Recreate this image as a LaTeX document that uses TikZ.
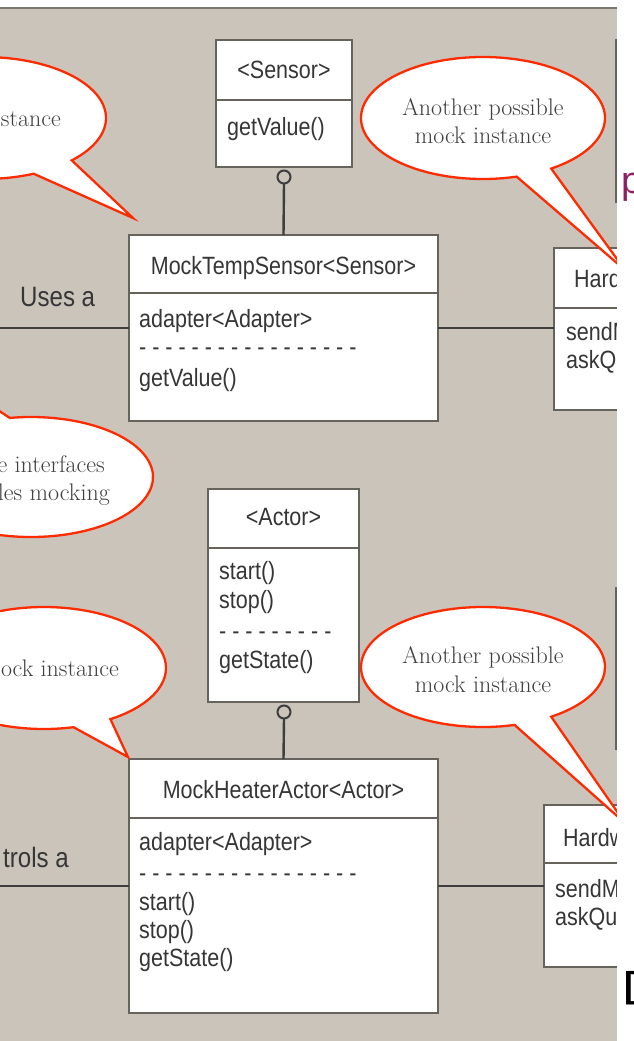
\documentclass[tikz,border=0pt]{standalone}
\usepackage{fontspec}
\newfontfamily\boxfnt[FakeStretch=0.86]{Liberation Sans}
\newfontfamily\sansfnt{Liberation Sans}
\definecolor{bgbeige}{HTML}{CAC4BA}
\definecolor{boxline}{HTML}{66625C}
\definecolor{topline}{HTML}{7A7670}
\definecolor{connc}{HTML}{3E3E3E}
\definecolor{calred}{HTML}{FF2B00}
\definecolor{txtc}{HTML}{363636}
\definecolor{ctxtc}{HTML}{404040}
\definecolor{slidepurple}{HTML}{8E1F63}
\begin{document}
\begin{tikzpicture}[x=1pt,y=1pt,
  umlbox/.style={draw=boxline, line width=2.3pt, fill=white, rectangle, inner sep=0pt, outer sep=0pt, anchor=north west},
  divider/.style={draw=boxline, line width=2.3pt},
  btxt/.style={font=\boxfnt\fontsize{25}{29}\selectfont, text=txtc, inner sep=0pt},
  ltxt/.style={font=\boxfnt\fontsize{28}{32}\selectfont, text=txtc, inner sep=0pt},
  ctxt/.style={font=\rmfamily\fontsize{24}{28}\selectfont, text=ctxtc, inner sep=0pt},
  conn/.style={draw=connc, line width=2.4pt},
  lolli/.style={circle, draw=connc, line width=2pt, minimum size=13pt, inner sep=0pt, outer sep=0pt},
  callout/.style={fill=white, draw=calred, line width=2.3pt, line join=miter},
  edgeline/.style={draw=boxline, line width=2pt}]
\useasboundingbox (0,0) rectangle (634,-1041);
\clip (0,0) rectangle (634,-1041);
% background
\fill[white] (0,0) rectangle (634,-1041);
\fill[bgbeige] (0,-8) rectangle (617,-1041);
\draw[draw=topline, line width=2pt] (0,-8) -- (617,-8);

% ---------- boxes ----------
\node[umlbox, minimum width=136pt, minimum height=127pt] (sensor) at (216,-40) {};
\draw[divider] ([yshift=-60pt]sensor.north west) -- ([yshift=-60pt]sensor.north east);
\node[btxt, anchor=base] (sensorT) at (284,-78) {<Sensor>};
\node[btxt, anchor=base west] (sensorM) at (227,-135) {getValue()};

\node[umlbox, minimum width=309pt, minimum height=186pt] (mts) at (129,-235) {};
\draw[divider] ([yshift=-58pt]mts.north west) -- ([yshift=-58pt]mts.north east);
\node[btxt, anchor=base] (mtsT) at (283.5,-274) {MockTempSensor<Sensor>};
\node[btxt, anchor=base west] (mtsA) at (139,-327) {adapter<Adapter>};
\node[btxt, anchor=base west] (mtsD) at (139,-355) {- - - - - - - - - - - - - - - - -};
\node[btxt, anchor=base west] (mtsM) at (139,-386) {getValue()};

\node[umlbox, minimum width=250pt, minimum height=162pt] (hw1) at (554,-248) {};
\draw[divider] ([yshift=-60pt]hw1.north west) -- ([yshift=-60pt]hw1.north east);
\node[btxt, anchor=base west] (hw1T) at (574,-287) {Hard};
\node[btxt, anchor=base west] (hw1A) at (566,-340) {sendM};
\node[btxt, anchor=base west] (hw1B) at (566,-368) {askQ};

\node[umlbox, minimum width=151pt, minimum height=213pt] (actor) at (208,-489) {};
\draw[divider] ([yshift=-59pt]actor.north west) -- ([yshift=-59pt]actor.north east);
\node[btxt, anchor=base] (actorT) at (283.5,-525) {<Actor>};
\node[btxt, anchor=base west] (actorS) at (219,-579) {start()};
\node[btxt, anchor=base west] (actorP) at (219,-608) {stop()};
\node[btxt, anchor=base west] (actorD) at (219,-639) {- - - - - - - - -};
\node[btxt, anchor=base west] (actorG) at (219,-668) {getState()};

\node[umlbox, minimum width=309pt, minimum height=254pt] (mha) at (129,-759) {};
\draw[divider] ([yshift=-59pt]mha.north west) -- ([yshift=-59pt]mha.north east);
\node[btxt, anchor=base] (mhaT) at (283.5,-798) {MockHeaterActor<Actor>};
\node[btxt, anchor=base west] (mhaA) at (139,-850) {adapter<Adapter>};
\node[btxt, anchor=base west] (mhaD) at (139,-881) {- - - - - - - - - - - - - - - - -};
\node[btxt, anchor=base west] (mhaS) at (139,-910) {start()};
\node[btxt, anchor=base west] (mhaP) at (139,-938) {stop()};
\node[btxt, anchor=base west] (mhaG) at (139,-966) {getState()};

\node[umlbox, minimum width=250pt, minimum height=162pt] (hw2) at (544,-805) {};
\draw[divider] ([yshift=-58pt]hw2.north west) -- ([yshift=-58pt]hw2.north east);
\node[btxt, anchor=base west] (hw2T) at (563,-846) {Hardw};
\node[btxt, anchor=base west] (hw2A) at (555,-897) {sendM};
\node[btxt, anchor=base west] (hw2B) at (555,-925) {askQu};

% ---------- connectors ----------
\node[lolli] (slp) at (284,-177) {};
\draw[conn] (slp.south) -- (mts.north);
\node[lolli] (alp) at (284,-712) {};
\draw[conn] (alp.south) -- (mha.north);

\coordinate (lft1) at (0,-328);
\draw[conn] (lft1) -- (mts.west);
\draw[conn] (mts.east) -- (mts.east -| hw1.west);
\coordinate (lft2) at (0,-886);
\draw[conn] (lft2) -- (mha.west);
\draw[conn] (mha.east) -- (mha.east -| hw2.west);

\node[ltxt, anchor=base west] (usesa) at (20,-306) {Uses a};
\node[ltxt, anchor=base east] (ctrla) at (69,-867) {trols a};

% ---------- callouts ----------
\draw[callout] (-16,-118) ++(-44:122 and 61) arc[start angle=-44, end angle=294, x radius=122, y radius=61] -- (133,-218) -- cycle;
\node[ctxt, anchor=base east] (ca) at (61,-126) {stance};

\draw[callout] (31,-477) ++(115:122 and 60) arc[start angle=115, end angle=460, x radius=122, y radius=60] -- (-40,-385) -- cycle;
\node[ctxt, anchor=base east] (cc1) at (105,-472) {e interfaces};
\node[ctxt, anchor=base east] (cc2) at (110,-500) {les mocking};

\draw[callout] (44,-668) ++(-57:122 and 61) arc[start angle=-57, end angle=284, x radius=122, y radius=61] -- (128,-757) -- cycle;
\node[ctxt, anchor=base east] (cb) at (119,-676) {nock instance};

\draw[callout] (483,-118) ++(-56:122 and 61) arc[start angle=-56, end angle=286, x radius=122, y radius=61] -- (625,-270) -- cycle;
\node[ctxt, anchor=base] (cd1) at (483,-115) {Another possible};
\node[ctxt, anchor=base] (cd2) at (483,-143) {mock instance};

\draw[callout] (483,-667) ++(-56:122 and 60) arc[start angle=-56, end angle=285, x radius=122, y radius=60] -- (625,-823) -- cycle;
\node[ctxt, anchor=base] (ce1) at (483,-663) {Another possible};
\node[ctxt, anchor=base] (ce2) at (483,-692) {mock instance};

% ---------- right-hand white panel ----------
\fill[white] (617,0) rectangle (640,-1045);
\draw[edgeline] (616,-39) -- (616,-203);
\draw[edgeline] (616,-587) -- (616,-750);
\node[font=\sansfnt\fontsize{38}{44}\selectfont, text=slidepurple, inner sep=0pt, anchor=base west] (ppart) at (621,-193) {p};
\node[font=\sansfnt\bfseries\fontsize{36}{40}\selectfont, text=black, inner sep=0pt, anchor=base west] (bpart) at (624,-997) {[};
\end{tikzpicture}
\end{document}
